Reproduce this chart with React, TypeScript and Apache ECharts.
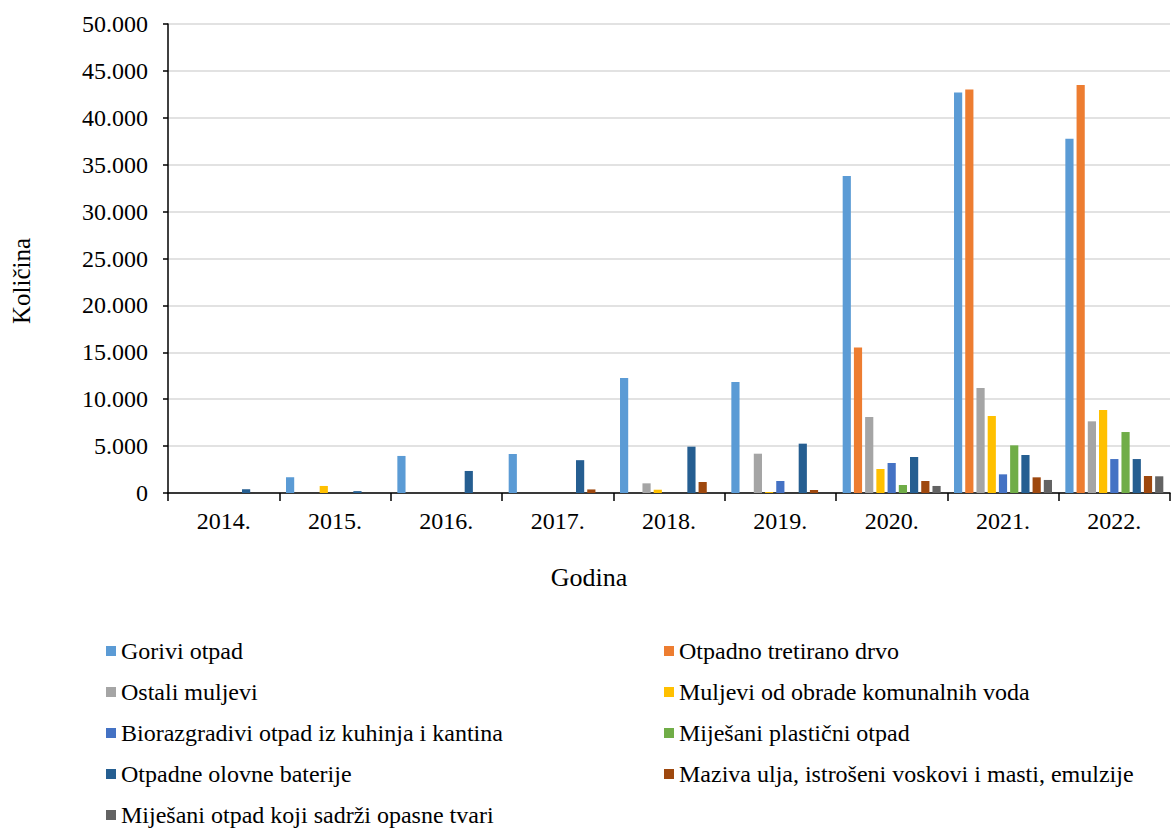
import React, { useEffect, useRef } from "react";
import * as echarts from "echarts";

const years = ["2014.", "2015.", "2016.", "2017.", "2018.", "2019.", "2020.", "2021.", "2022."];
const seriesNames = [
  "Gorivi otpad",
  "Otpadno tretirano drvo",
  "Ostali muljevi",
  "Muljevi od obrade komunalnih voda",
  "Biorazgradivi otpad iz kuhinja i kantina",
  "Miješani plastični otpad",
  "Otpadne olovne baterije",
  "Maziva ulja, istrošeni voskovi i masti, emulzije",
  "Miješani otpad koji sadrži opasne tvari",
];
const colors = ["#5B9BD5", "#ED7D31", "#A5A5A5", "#FFC000", "#4472C4", "#70AD47", "#255E91", "#9E480E", "#636363"];

const gorivi = [0, 1680, 3950, 4150, 12260, 11830, 33800, 42710, 37770];
const drvo = [0, 0, 0, 0, 0, 0, 15500, 43030, 43490];
const ostaliMuljevi = [0, 0, 0, 0, 1030, 4190, 8100, 11190, 7640];
const komunalniMuljevi = [0, 750, 0, 0, 350, 100, 2560, 8210, 8850];
const biorazgradivi = [0, 0, 0, 0, 0, 1280, 3200, 1990, 3620];
const plasticni = [0, 0, 0, 0, 0, 0, 850, 5080, 6500];
const baterije = [400, 200, 2350, 3500, 4940, 5260, 3840, 4050, 3620];
const maziva = [0, 0, 0, 380, 1170, 320, 1280, 1670, 1810];
const opasni = [0, 0, 0, 0, 0, 0, 750, 1390, 1780];
const allValues = [gorivi, drvo, ostaliMuljevi, komunalniMuljevi, biorazgradivi, plasticni, baterije, maziva, opasni];

const FONT = "Liberation Serif";

function fmt(v: number): string {
  return String(v).replace(/\B(?=(\d{3})+(?!\d))/g, ".");
}

export default function App() {
  const ref = useRef<HTMLDivElement>(null);
  useEffect(() => {
    if (!ref.current) return;
    const chart = echarts.init(ref.current, undefined, { renderer: "svg" });
    const legendText = { fontFamily: FONT, fontSize: 24, color: "#000", lineHeight: 24 };
    const legendBase = {
      orient: "vertical",
      top: 639,
      padding: 0,
      itemWidth: 10,
      itemHeight: 10,
      itemGap: 17,
      height: 192,
      icon: "rect",
      textStyle: legendText,
    };
    chart.setOption({
      animation: false,
      backgroundColor: "#fff",
      color: colors,
      textStyle: { fontFamily: FONT },
      grid: { left: 168, right: 3, top: 24, bottom: 338, containLabel: false },
      xAxis: {
        type: "category",
        data: years,
        axisLine: { lineStyle: { color: "#000", width: 1.5 } },
        axisTick: { show: true, length: 8, lineStyle: { color: "#000", width: 1.5 } },
        axisLabel: { fontFamily: FONT, fontSize: 24, color: "#000", margin: 16 },
      },
      yAxis: {
        type: "value",
        min: 0,
        max: 50000,
        interval: 5000,
        axisLine: { show: true, lineStyle: { color: "#000", width: 1.5 } },
        axisTick: { show: true, length: 5, lineStyle: { color: "#000", width: 1.5 } },
        axisLabel: { fontFamily: FONT, fontSize: 24, color: "#000", margin: 20, formatter: (v: number) => fmt(v) },
        splitLine: { lineStyle: { color: "#D9D9D9", width: 1.5 } },
      },
      graphic: [
        {
          type: "text",
          x: 21,
          y: 281,
          rotation: Math.PI / 2,
          style: { text: "Količina", fontFamily: FONT, fontSize: 25, fill: "#000", align: "center", verticalAlign: "middle" },
        },
        {
          type: "text",
          x: 589,
          y: 577,
          style: { text: "Godina", fontFamily: FONT, fontSize: 26, fill: "#000", align: "center", verticalAlign: "middle" },
        },
      ],
      legend: [
        { ...legendBase, left: 106, data: [0, 2, 4, 6, 8].map((i) => seriesNames[i]) },
        { ...legendBase, left: 664, data: [1, 3, 5, 7].map((i) => seriesNames[i]) },
      ],
      series: seriesNames.map((name, i) => ({
        name,
        type: "bar",
        data: allValues[i],
        barGap: "37%",
        barCategoryGap: "12%",
        itemStyle: { color: colors[i] },
      })),
    });
    return () => chart.dispose();
  }, []);
  return <div ref={ref} style={{ width: 1173, height: 831, position: "absolute", left: 0, top: 0 }} />;
}
